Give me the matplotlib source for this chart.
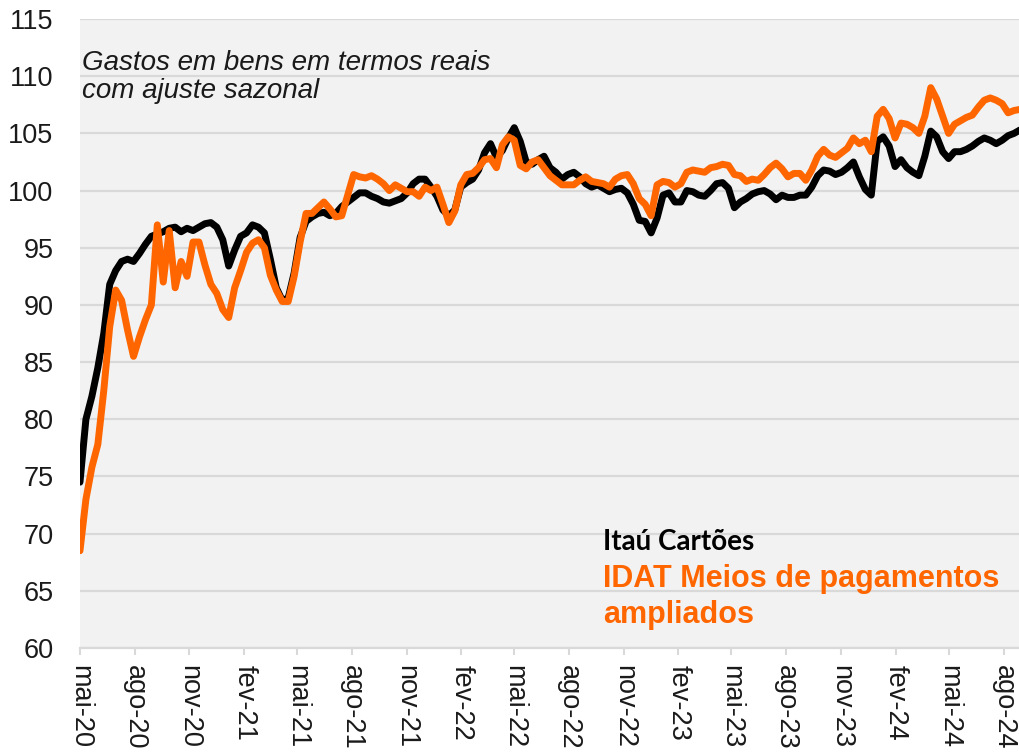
import matplotlib
matplotlib.use("Agg")
import matplotlib.pyplot as plt
import matplotlib.dates as mdates
from matplotlib.ticker import FuncFormatter
import pandas as pd


# Gastos em bens em termos reais (índice, com ajuste sazonal), leitura a cada 10 dias
start = "2020-05-01"
step = "10D"

itau = [
    74.5, 80.0, 82.0, 84.5, 87.5, 91.8, 93.0, 93.8, 94.0, 93.8,
    94.5, 95.3, 96.0, 96.2, 96.4, 96.7, 96.8, 96.4, 96.7, 96.5,
    96.8, 97.1, 97.2, 96.8, 95.7, 93.4, 94.8, 96.0, 96.3, 97.0,
    96.8, 96.3, 94.0, 91.5, 90.4, 90.6, 92.8, 95.9, 97.3, 97.7,
    98.0, 98.1, 97.8, 98.0, 98.6, 99.0, 99.4, 99.8, 99.8, 99.5,
    99.3, 99.0, 98.9, 99.1, 99.3, 99.8, 100.6, 101.0, 101.0, 100.3,
    99.5, 98.3, 97.8, 98.3, 100.3, 100.7, 101.0, 101.8, 103.3, 104.1,
    102.9, 103.5, 104.6, 105.5, 104.3, 102.5, 102.3, 102.7, 103.0, 102.0,
    101.6, 101.0, 101.4, 101.6, 101.2, 100.6, 100.3, 100.5, 100.2, 99.9,
    100.1, 100.2, 99.8, 98.8, 97.4, 97.3, 96.3, 97.6, 99.6, 99.8,
    99.0, 99.0, 100.0, 99.9, 99.6, 99.5, 100.0, 100.6, 100.7, 100.2,
    98.5, 99.0, 99.3, 99.7, 99.9, 100.0, 99.7, 99.2, 99.6, 99.4,
    99.4, 99.6, 99.6, 100.3, 101.3, 101.8, 101.7, 101.4, 101.6, 102.0,
    102.5, 101.2, 100.1, 99.6, 104.3, 104.7, 103.9, 102.1, 102.7, 102.0,
    101.6, 101.3, 103.0, 105.2, 104.7, 103.4, 102.8, 103.4, 103.4, 103.6,
    103.9, 104.3, 104.6, 104.4, 104.1, 104.4, 104.8, 105.0, 105.3,
]

idat = [
    68.5, 73.0, 75.8, 77.8, 82.5, 88.1, 91.3, 90.4, 87.8, 85.5,
    87.2, 88.7, 90.0, 97.0, 92.0, 96.5, 91.5, 93.8, 92.5, 95.5,
    95.5, 93.5, 91.8, 91.0, 89.6, 88.9, 91.5, 93.0, 94.6, 95.4,
    95.7, 95.0, 92.6, 91.3, 90.3, 90.3, 92.5, 95.5, 98.0, 98.0,
    98.5, 99.0, 98.4, 97.7, 97.8, 99.6, 101.4, 101.2, 101.1, 101.3,
    101.0, 100.6, 100.0, 100.5, 100.2, 99.9, 99.9, 99.5, 100.3, 100.0,
    100.3, 98.8, 97.2, 98.2, 100.5, 101.4, 101.5, 102.0, 102.7, 102.8,
    102.0, 104.0, 104.7, 104.4, 102.2, 101.9, 102.5, 102.7, 102.0, 101.3,
    100.9, 100.5, 100.5, 100.5, 100.9, 101.2, 100.8, 100.7, 100.6, 100.3,
    101.0, 101.3, 101.4, 100.6, 99.3, 98.8, 97.8, 100.5, 100.8, 100.7,
    100.3, 100.6, 101.6, 101.8, 101.7, 101.6, 102.0, 102.1, 102.3, 102.2,
    101.4, 101.3, 100.8, 101.0, 100.9, 101.4, 102.0, 102.4, 101.9, 101.2,
    101.5, 101.5, 100.9, 101.8, 103.0, 103.6, 103.1, 102.9, 103.3, 103.7,
    104.6, 104.1, 104.4, 103.4, 106.5, 107.1, 106.3, 104.6, 105.9, 105.8,
    105.5, 105.0, 106.5, 109.0, 108.0, 106.5, 105.0, 105.8, 106.1, 106.4,
    106.6, 107.3, 107.9, 108.1, 107.9, 107.6, 106.8, 107.0, 107.1,
]

month_abbr = ["jan", "fev", "mar", "abr", "mai", "jun",
              "jul", "ago", "set", "out", "nov", "dez"]

dates = pd.date_range(start, periods=len(itau), freq=step)

orange = "#FF6600"

fig = plt.figure(figsize=(10.2, 7.52), dpi=100)
ax = fig.add_axes([0.0784, 0.1383, 0.9216, 0.8364])
ax.set_facecolor("#F2F2F2")

ax.plot(dates, itau, color="black", lw=5, solid_joinstyle="round",
        solid_capstyle="round", zorder=3)
ax.plot(dates, idat, color=orange, lw=5, solid_joinstyle="round",
        solid_capstyle="round", zorder=4)

ax.set_ylim(60, 115)
ax.set_yticks(range(60, 116, 5))
ax.set_xlim(dates[0], dates[-1])

ax.grid(axis="y", color="#D9D9D9", lw=1.6)
ax.set_axisbelow(True)
for side in ["top", "right", "left"]:
    ax.spines[side].set_visible(False)
ax.spines["bottom"].set_color("#D9D9D9")
ax.spines["bottom"].set_linewidth(1.6)

ax.xaxis.set_major_locator(mdates.MonthLocator(bymonth=[2, 5, 8, 11]))


def fmt_month(v, pos):
    d = mdates.num2date(v)
    return f"{month_abbr[d.month - 1]}-{d.year % 100:02d}"


ax.xaxis.set_major_formatter(FuncFormatter(fmt_month))
ax.tick_params(axis="x", length=5, width=1.5, color="#D9D9D9", pad=7,
               labelsize=19.5, labelcolor="#1A1A1A")
for lab in ax.get_xticklabels():
    lab.set_rotation(-90)
    lab.set_ha("center")
    lab.set_va("top")
ax.tick_params(axis="y", length=0, pad=19, labelsize=19.5, labelcolor="#1A1A1A")
for lab in ax.get_xticklabels() + ax.get_yticklabels():
    lab.set_fontfamily("Liberation Sans")

ax.text(0.002, 0.95, "Gastos em bens em termos reais\ncom ajuste sazonal",
        transform=ax.transAxes, ha="left", va="top", fontsize=20,
        style="italic", family="Liberation Sans", color="#1A1A1A",
        linespacing=1.1)

ax.text(0.556, 0.156, "Itaú Cartões", transform=ax.transAxes, ha="left",
        va="baseline", fontsize=20, fontweight="bold", family="Lato",
        color="black")
ax.text(0.556, 0.097, "IDAT Meios de pagamentos", transform=ax.transAxes,
        ha="left", va="baseline", fontsize=22, fontweight="bold",
        family="Liberation Sans", color=orange)
ax.text(0.556, 0.040, "ampliados", transform=ax.transAxes,
        ha="left", va="baseline", fontsize=22, fontweight="bold",
        family="Liberation Sans", color=orange)

fig.savefig("out.png", dpi=100)
